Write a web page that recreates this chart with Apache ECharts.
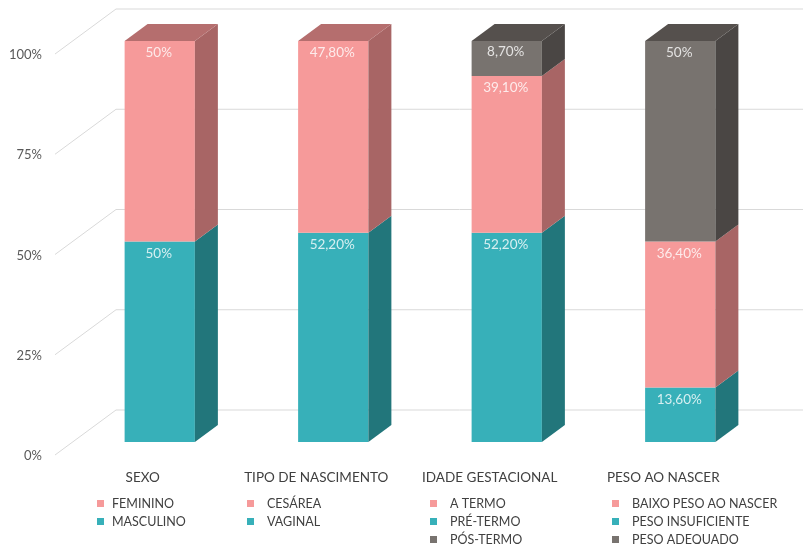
<!DOCTYPE html>
<html>
<head>
<meta charset="utf-8">
<script src="https://cdn.jsdelivr.net/npm/echarts@6/dist/echarts.min.js"></script>
<style>html,body{margin:0;padding:0;background:#fff}#c{width:803px;height:544px}</style>
</head>
<body>
<div id="c"></div>
<script>
const categories = ['SEXO', 'TIPO DE NASCIMENTO', 'IDADE GESTACIONAL', 'PESO AO NASCER'];
const tealNames = ['MASCULINO', 'VAGINAL', 'PRÉ-TERMO', 'PESO INSUFICIENTE'];
const tealValues = [50, 52.2, 52.2, 13.6];
const pinkNames = ['FEMININO', 'CESÁREA', 'A TERMO', 'BAIXO PESO AO NASCER'];
const pinkValues = [50, 47.8, 39.1, 36.4];
const grayNames = [null, null, 'PÓS-TERMO', 'PESO ADEQUADO'];
const grayValues = [0, 0, 8.7, 50];
const yTicks = [0, 25, 50, 75, 100];

const FONT = 'Lato, "Open Sans", sans-serif';
const DX = 23, DY = 17;           // bar depth
const BDX = 43, BDY = 32;         // back wall offset
const FDX = -18, FDY = 13;        // front floor offset

const palette = {
  teal: { front: '#37B0B9', side: '#22767B', top: '#2B8389' },
  pink: { front: '#F69A9A', side: '#A86565', top: '#B56E6E' },
  gray: { front: '#78736F', side: '#4A4644', top: '#55504D' }
};

function fmt(v) {
  return Number.isInteger(v) ? v + '%' : v.toFixed(2).replace('.', ',') + '%';
}

function barRender(col) {
  return function (params, api) {
    const x = api.value(0), b = api.value(1), t = api.value(2), isTop = api.value(3);
    const p0 = api.coord([x, b]), p1 = api.coord([x, t]);
    const bw = api.size([1, 0])[0] * 0.405;
    const xl = p0[0] - bw / 2, xr = p0[0] + bw / 2;
    const children = [
      { type: 'rect', shape: { x: xl, y: p1[1], width: bw, height: p0[1] - p1[1] }, style: { fill: col.front } },
      { type: 'polygon', shape: { points: [[xr, p1[1]], [xr + DX, p1[1] - DY], [xr + DX, p0[1] - DY], [xr, p0[1]]] }, style: { fill: col.side } }
    ];
    if (isTop) {
      children.push({ type: 'polygon', shape: { points: [[xl, p1[1]], [xl + DX, p1[1] - DY], [xr + DX, p1[1] - DY], [xr, p1[1]]] }, style: { fill: col.top } });
    }
    children.push({
      type: 'text',
      style: {
        text: fmt(t - b), x: p0[0] - 1, y: p1[1] + Math.min(12, (p0[1] - p1[1]) * 0.25 + 2), align: 'center', verticalAlign: 'middle',
        fill: 'rgba(255,255,255,0.8)', font: '13.5px ' + FONT
      }
    });
    return { type: 'group', children };
  };
}

const series = [];
// gridlines (3D wall)
series.push({
  type: 'custom', name: '_grid', silent: true, z: 0,
  data: yTicks.map(v => [0, v]),
  renderItem: function (params, api) {
    const p = api.coord([0, api.value(1)]);
    const band = api.size([1, 0])[0];
    const gl = p[0] - band / 2;
    return {
      type: 'polyline',
      shape: { points: [[gl + FDX, p[1] + FDY], [gl + BDX, p[1] - BDY], [api.getWidth(), p[1] - BDY]] },
      style: { stroke: '#D9D9D9', lineWidth: 1, fill: null }
    };
  }
});

const layers = [
  { names: tealNames, values: tealValues, col: palette.teal },
  { names: pinkNames, values: pinkValues, col: palette.pink },
  { names: grayNames, values: grayValues, col: palette.gray }
];
categories.forEach((c, i) => {
  let base = 0;
  const present = layers.filter(l => l.values[i] > 0);
  present.forEach((l, k) => {
    const v = l.values[i];
    series.push({
      type: 'custom', name: l.names[i], z: 2,
      itemStyle: { color: l.col.front },
      data: [[i, base, base + v, k === present.length - 1 ? 1 : 0]],
      renderItem: barRender(l.col)
    });
    base += v;
  });
});

function legend(names, left, padLeft) {
  return {
    data: names.filter(n => n), orient: 'vertical', left: left, top: 497, height: 80, padding: 0,
    icon: 'rect', itemWidth: 7, itemHeight: 7, itemGap: 5, selectedMode: false,
    textStyle: { fontFamily: FONT, fontSize: 12.5, color: '#404040', lineHeight: 12, padding: [0, 0, 0, padLeft] }
  };
}
const legends = categories.map((c, i) => legend([pinkNames[i], tealNames[i], grayNames[i]], [97, 247, 430, 612][i], i === 0 ? 3 : 8));

const chart = echarts.init(document.getElementById('c'));
chart.setOption({
  animation: false,
  grid: { left: 73, right: 36, top: 41, bottom: 102 },
  legend: legends,
  xAxis: {
    type: 'category', data: categories,
    axisLine: { show: false }, axisTick: { show: false }, splitLine: { show: false },
    axisLabel: { interval: 0, margin: 29, fontFamily: FONT, fontSize: 13.5, color: '#404040', padding: [0, 34, 0, 0] }
  },
  yAxis: {
    type: 'value', min: 0, max: 100, interval: 25,
    axisLine: { show: false }, axisTick: { show: false }, splitLine: { show: false },
    axisLabel: { margin: 31, fontFamily: FONT, fontSize: 13, color: '#595959', verticalAlign: 'top', lineHeight: 28, formatter: v => v + '%' }
  },
  series: series
});
</script>
</body>
</html>
